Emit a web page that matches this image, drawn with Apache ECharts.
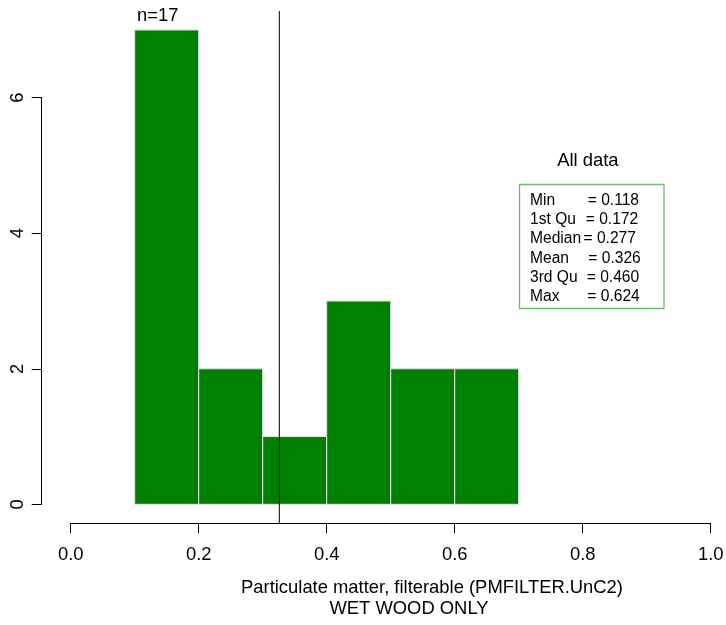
<!DOCTYPE html>
<html><head><meta charset="utf-8">
<script src="https://cdn.jsdelivr.net/npm/echarts@6/dist/echarts.min.js"></script>
<style>html,body{margin:0;padding:0;background:#fff}#c{width:726px;height:625px}</style>
</head><body><div id="c"></div>
<script>
// ---- data ----
const binStarts = [0.1, 0.2, 0.3, 0.4, 0.5, 0.6];
const binEnds   = [0.2, 0.3, 0.4, 0.5, 0.6, 0.7];
const counts    = [7, 2, 1, 3, 2, 2];
const meanValue = 0.326;
const sampleLabel = 'n=17';
const statNames  = ['Min', '1st Qu', 'Median', 'Mean', '3rd Qu', 'Max'];
const statValues = ['0.118', '0.172', '0.277', '0.326', '0.460', '0.624'];
const xTickLabels = ['0.0', '0.2', '0.4', '0.6', '0.8', '1.0'];
const yTickLabels = ['0', '2', '4', '6'];
const xTitleLines = ['Particulate matter, filterable (PMFILTER.UnC2)', 'WET WOOD ONLY'];
const statsTitle = 'All data';

// ---- layout / style ----
const FF = "'Liberation Sans', Arial, Helvetica, sans-serif";
const FS = 18.4;
const LFS = 15.6;
const Y_MIN = -0.28, Y_MAX = 7.28;
const eqX = [587.7, 585.7, 583.5, 588.3, 586.7, 587.3];
const statY0 = 200.6, statDY = 19.2;

const chart = echarts.init(document.getElementById('c'), null, {renderer: 'canvas', width: 726, height: 625});

const graphics = [];
graphics.push({type: 'text', x: 157.8, y: 16.3, style: {text: sampleLabel, fill: '#000', fontSize: FS, fontFamily: FF, align: 'center', verticalAlign: 'middle'}});
graphics.push({type: 'text', x: 587.8, y: 161, style: {text: statsTitle, fill: '#000', fontSize: FS, fontFamily: FF, align: 'center', verticalAlign: 'middle'}});
graphics.push({type: 'rect', shape: {x: 519.5, y: 184.5, width: 144.5, height: 124}, style: {fill: 'none', stroke: '#6cbb6c', lineWidth: 1.3}});
statNames.forEach((n, i) => {
  const y = statY0 + i * statDY;
  graphics.push({type: 'text', x: 530, y: y, style: {text: n, fill: '#000', fontSize: LFS, fontFamily: FF, align: 'left', verticalAlign: 'middle'}});
  graphics.push({type: 'text', x: eqX[i], y: y, style: {text: '= ' + statValues[i], fill: '#000', fontSize: LFS, fontFamily: FF, align: 'left', verticalAlign: 'middle'}});
});
graphics.push({type: 'text', x: 432, y: 588, style: {text: xTitleLines[0], fill: '#000', fontSize: FS, fontFamily: FF, align: 'center', verticalAlign: 'middle'}});
graphics.push({type: 'text', x: 409, y: 609, style: {text: xTitleLines[1], fill: '#000', fontSize: FS, fontFamily: FF, align: 'center', verticalAlign: 'middle'}});

const option = {
  animation: false,
  backgroundColor: '#fff',
  grid: [
    {left: 70.7, right: 15.3, top: 11, bottom: 101.7, containLabel: false, outerBoundsMode: 'none'},
    {left: 41.7, width: 20, top: 97.7, bottom: 120.7, containLabel: false, outerBoundsMode: 'none'}
  ],
  xAxis: [
    {gridIndex: 0, type: 'value', min: 0, max: 1, interval: 0.2,
     axisLine: {show: true, onZero: false, lineStyle: {color: '#000', width: 1}},
     axisTick: {show: true, length: 10, lineStyle: {color: '#000', width: 1}},
     axisLabel: {margin: 23, fontSize: FS, fontFamily: FF, color: '#000',
       formatter: v => xTickLabels[Math.round(v / 0.2)]},
     splitLine: {show: false}},
    {gridIndex: 1, type: 'value', show: false, min: 0, max: 1}
  ],
  yAxis: [
    {gridIndex: 0, type: 'value', min: Y_MIN, max: Y_MAX, show: false},
    {gridIndex: 1, type: 'value', min: 0, max: 6, interval: 2,
     axisLine: {show: true, onZero: false, lineStyle: {color: '#000', width: 1}},
     axisTick: {show: true, length: 10, lineStyle: {color: '#000', width: 1}},
     axisLabel: {rotate: 90, margin: 15, fontSize: FS, fontFamily: FF, color: '#000',
       formatter: v => yTickLabels[Math.round(v / 2)]},
     splitLine: {show: false}}
  ],
  series: [{
    type: 'custom', xAxisIndex: 0, yAxisIndex: 0,
    data: binStarts.map((s, i) => [s, binEnds[i], counts[i]]),
    encode: {x: [0, 1], y: 2},
    renderItem: (params, api) => {
      const p0 = api.coord([api.value(0), 0]);
      const p1 = api.coord([api.value(1), api.value(2)]);
      return {type: 'rect',
        shape: {x: p0[0], y: p1[1], width: p1[0] - p0[0], height: p0[1] - p1[1]},
        style: {fill: '#008000', stroke: '#e2e2e2', lineWidth: 1}};
    }
  }, {
    type: 'line', xAxisIndex: 0, yAxisIndex: 0, silent: true,
    data: [[meanValue, Y_MIN], [meanValue, Y_MAX]],
    symbol: 'none', lineStyle: {color: '#000', width: 1}, z: 5
  }],
  graphic: graphics
};
chart.setOption(option);
</script></body></html>
